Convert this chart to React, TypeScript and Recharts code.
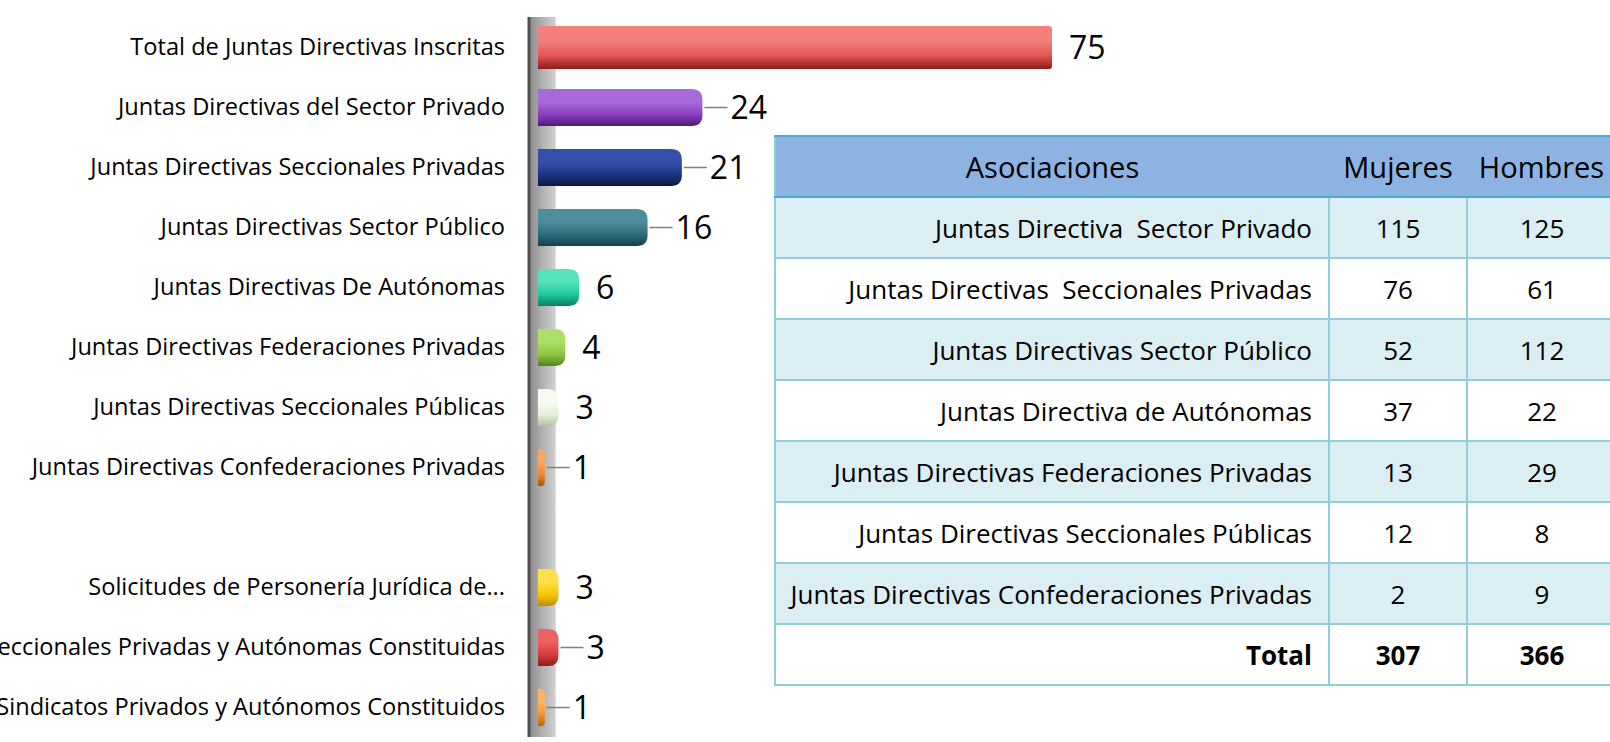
import React from "react";
import { BarChart, Bar, XAxis, YAxis, Cell, LabelList, ReferenceArea } from "recharts";

// ---------- data ----------
const categories = [
  "Total de Juntas Directivas Inscritas",
  "Juntas Directivas del Sector Privado",
  "Juntas Directivas Seccionales Privadas",
  "Juntas Directivas Sector Público",
  "Juntas Directivas De Autónomas",
  "Juntas Directivas Federaciones Privadas",
  "Juntas Directivas Seccionales Públicas",
  "Juntas Directivas Confederaciones Privadas",
  "",
  "Solicitudes de Personería Jurídica de...",
  "Seccionales Privadas y Autónomas Constituidas",
  "Sindicatos Privados y Autónomos Constituidos",
];
const counts: (number | null)[] = [75, 24, 21, 16, 6, 4, 3, 1, null, 3, 3, 1];

const tableHeaders = ["Asociaciones", "Mujeres", "Hombres"];
const tableNames = [
  "Juntas Directiva  Sector Privado",
  "Juntas Directivas  Seccionales Privadas",
  "Juntas Directivas Sector Público",
  "Juntas Directiva de Autónomas",
  "Juntas Directivas Federaciones Privadas",
  "Juntas Directivas Seccionales Públicas",
  "Juntas Directivas Confederaciones Privadas",
];
const mujeres = [115, 76, 52, 37, 13, 12, 2];
const hombres = [125, 61, 112, 22, 29, 8, 9];
const totalLabel = "Total";
const totalMujeres = 307;
const totalHombres = 366;

// ---------- styles ----------
const FONT = "'Open Sans', Lato, sans-serif";
const barColors: [string, string, string][] = [
  ["#f47f7b", "#e05450", "#8e1c1a"],
  ["#a86ad8", "#8a3dbf", "#4e1a72"],
  ["#3550ab", "#1c3582", "#0b1840"],
  ["#4f8d9c", "#2f6a7a", "#173e48"],
  ["#55e3be", "#1dc79c", "#0d7e61"],
  ["#addf68", "#8cc63f", "#567f1d"],
  ["#f6faf0", "#e3eed8", "#b3c3a2"],
  ["#f8a860", "#f0862a", "#a8520c"],
  ["#cccccc", "#cccccc", "#cccccc"],
  ["#ffdf4a", "#f7c500", "#bf8c00"],
  ["#ec6262", "#d83a3a", "#8e1a1a"],
  ["#fbb466", "#f5922e", "#b8620c"],
];
const LEADER = new Set([1, 2, 3, 7, 9, 10, 11]);

const data = categories.map((name, i) => ({ name, value: counts[i] }));

const CylinderBar = (props: any) => {
  const { x, width, fill } = props;
  const index = props.index ?? 0;
  if (!width || width <= 0) return null;
  const grow = index === 0 ? 3 : 0;
  const y = props.y - grow;
  const height = props.height + grow * 2;
  const r = index === 0 ? 3 : Math.min(11, width / 2, height / 2);
  const d = `M${x},${y} H${x + width - r} Q${x + width},${y} ${x + width},${y + r} V${y + height - r} Q${x + width},${y + height} ${x + width - r},${y + height} H${x} Z`;
  return <path d={d} fill={fill} />;
};

const ValueLabel = (props: any) => {
  const vb = props.viewBox || {};
  const x = vb.x ?? props.x;
  const y = vb.y ?? props.y;
  const width = vb.width ?? props.width;
  const height = vb.height ?? props.height;
  const { value, index } = props;
  if (value == null) return null;
  const end = x + width;
  const cy = y + height / 2;
  const leader = LEADER.has(index);
  return (
    <g>
      {leader && <line x1={end + 2} y1={cy} x2={end + 25} y2={cy} stroke="#7f7f7f" strokeWidth={1.5} />}
      <text x={end + (leader ? 28 : 17)} y={cy} dy="0.36em" fontSize={32} fontFamily={FONT} fill="#000">
        {value}
      </text>
    </g>
  );
};

const CategoryTick = (props: any) => {
  const { x, y, payload } = props;
  return (
    <text x={x} y={y} dy="0.36em" textAnchor="end" fontSize={23.6} fontFamily={FONT} fill="#000">
      {payload.value}
    </text>
  );
};

const cellBase: React.CSSProperties = {
  border: "2px solid #92cddc",
  padding: 0,
  fontSize: 26,
  color: "#000",
  whiteSpace: "pre",
};

export default function App() {
  return (
    <div
      style={{
        position: "fixed",
        left: 0,
        top: 0,
        width: 1610,
        height: 742,
        overflow: "hidden",
        background: "#fff",
        fontFamily: FONT,
      }}
    >
      <BarChart
        width={1610}
        height={742}
        data={data}
        layout="vertical"
        margin={{ top: 17, right: 558, bottom: 5, left: 0 }}
        barSize={37}
      >
        <defs>
          {barColors.map((c, i) => (
            <linearGradient key={i} id={`barGrad${i}`} x1="0" y1="0" x2="0" y2="1">
              <stop offset="0%" stopColor={c[0]} />
              <stop offset="35%" stopColor={c[0]} />
              <stop offset="70%" stopColor={c[1]} />
              <stop offset="100%" stopColor={c[2]} />
            </linearGradient>
          ))}
          <linearGradient id="wallGrad" x1="0" y1="0" x2="1" y2="0">
            <stop offset="0%" stopColor="#8c8c8c" />
            <stop offset="50%" stopColor="#b0b0b0" />
            <stop offset="100%" stopColor="#d2d2d2" />
          </linearGradient>
        </defs>
        <XAxis type="number" domain={[-1.3, 75]} hide allowDataOverflow />
        <YAxis
          type="category"
          dataKey="name"
          width={529}
          interval={0}
          tickLine={false}
          tickSize={0}
          tickMargin={24}
          axisLine={{ stroke: "#505050", strokeWidth: 3 }}
          tick={<CategoryTick />}
        />
        <ReferenceArea x1={-1.3} x2={2.6} fill="url(#wallGrad)" fillOpacity={1} stroke="none" ifOverflow="visible" />
        <Bar dataKey="value" isAnimationActive={false} shape={<CylinderBar />}>
          {data.map((_, i) => (
            <Cell key={i} fill={`url(#barGrad${i})`} />
          ))}
          <LabelList dataKey="value" content={<ValueLabel />} />
        </Bar>
      </BarChart>

      <table
        style={{
          position: "absolute",
          left: 774,
          top: 135,
          width: 842,
          borderCollapse: "collapse",
          tableLayout: "fixed",
          fontFamily: FONT,
          border: "2px solid #8ccbdc",
        }}
      >
        <colgroup>
          <col style={{ width: 554 }} />
          <col style={{ width: 138 }} />
          <col style={{ width: 150 }} />
        </colgroup>
        <thead>
          <tr style={{ height: 61, background: "#8db3e2" }}>
            {tableHeaders.map((h, i) => (
              <th
                key={i}
                style={{
                  fontWeight: "normal",
                  fontSize: 29,
                  textAlign: "center",
                  padding: 0,
                  borderTop: "2px solid #4bacc6",
                  borderBottom: "2px solid #4bacc6",
                  color: "#000",
                }}
              >
                {h}
              </th>
            ))}
          </tr>
        </thead>
        <tbody>
          {tableNames.map((n, i) => (
            <tr key={i} style={{ height: 61, background: i % 2 === 0 ? "#daeef3" : "#ffffff" }}>
              <td style={{ ...cellBase, textAlign: "right", paddingRight: 16 }}>{n}</td>
              <td style={{ ...cellBase, textAlign: "center" }}>{mujeres[i]}</td>
              <td style={{ ...cellBase, textAlign: "center" }}>{hombres[i]}</td>
            </tr>
          ))}
          <tr style={{ height: 61, background: "#ffffff" }}>
            <td style={{ ...cellBase, textAlign: "right", paddingRight: 16, fontWeight: "bold" }}>{totalLabel}</td>
            <td style={{ ...cellBase, textAlign: "center", fontWeight: "bold" }}>{totalMujeres}</td>
            <td style={{ ...cellBase, textAlign: "center", fontWeight: "bold" }}>{totalHombres}</td>
          </tr>
        </tbody>
      </table>
    </div>
  );
}
